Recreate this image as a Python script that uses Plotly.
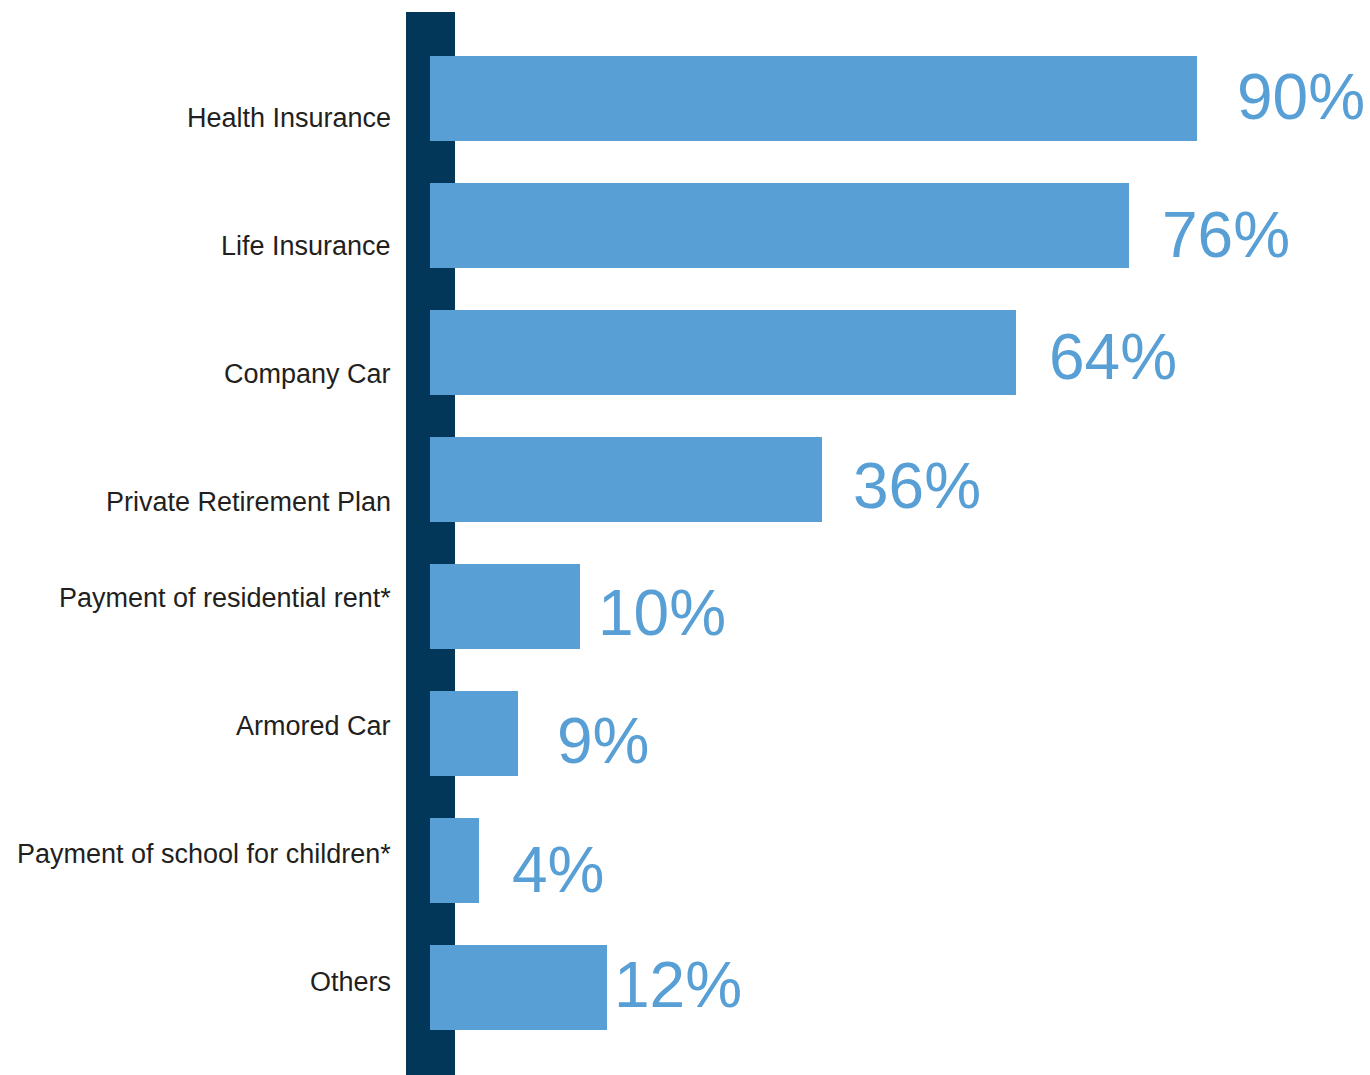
import plotly.graph_objects as go

# Data
categories = [
    "Health Insurance",
    "Life Insurance",
    "Company Car",
    "Private Retirement Plan",
    "Payment of residential rent*",
    "Armored Car",
    "Payment of school for children*",
    "Others",
]
value_labels = ["90%", "76%", "64%", "36%", "10%", "9%", "4%", "12%"]
# Bar lengths as drawn in the picture (percent scale)
bar_lengths = [90.0, 82.0, 68.8, 46.0, 17.6, 10.3, 5.75, 20.8]

# Styling
BAR_COLOR = "#579fd5"
NAVY = "#02375a"
TEXT_COLOR = "#231f20"
label_yshift = [-20, -21, -21, -22, 9, 8, 7, 6]
value_yshift = [1, -10, -4, -6, -6, -7, -9, 3]
value_xshift = [38, 31, 31, 29, 16, 37, 31, 5]

W, H = 1370, 1075
L, R, T, B = 430, 0, 12, 0
plot_w = W - L - R

fig = go.Figure()
fig.add_trace(go.Bar(
    x=bar_lengths,
    y=categories,
    orientation="h",
    marker=dict(color=BAR_COLOR, line=dict(width=0)),
    width=0.669,
    hoverinfo="skip",
))

# Navy spine behind bars
fig.add_shape(
    type="rect", xref="paper", yref="paper",
    x0=(406 - L) / plot_w, x1=(455 - L) / plot_w, y0=0, y1=1,
    fillcolor=NAVY, line=dict(width=0), layer="below",
)

annotations = []
for i, cat in enumerate(categories):
    annotations.append(dict(
        x=(393 - L) / plot_w, xref="paper", y=cat, yref="y",
        text=cat, showarrow=False, xanchor="right", yanchor="middle",
        yshift=label_yshift[i],
        font=dict(family="Liberation Sans, Arial, sans-serif", size=27, color=TEXT_COLOR),
    ))
    annotations.append(dict(
        x=bar_lengths[i], xref="x", y=cat, yref="y",
        text=value_labels[i], showarrow=False, xanchor="left", yanchor="middle",
        xshift=value_xshift[i], yshift=value_yshift[i],
        font=dict(family="Liberation Sans, Arial, sans-serif", size=64, color=BAR_COLOR),
    ))

fig.update_layout(
    width=W, height=H,
    margin=dict(l=L, r=R, t=T, b=B, pad=0),
    paper_bgcolor="white", plot_bgcolor="white",
    showlegend=False,
    bargap=0,
    xaxis=dict(range=[0, plot_w / 8.52], visible=False, fixedrange=True),
    yaxis=dict(
        type="category",
        categoryorder="array", categoryarray=categories,
        range=[7.686, -0.68],
        showticklabels=False, showgrid=False, zeroline=False, showline=False,
        ticks="",
    ),
    annotations=annotations,
)

fig.write_html("out.html")
